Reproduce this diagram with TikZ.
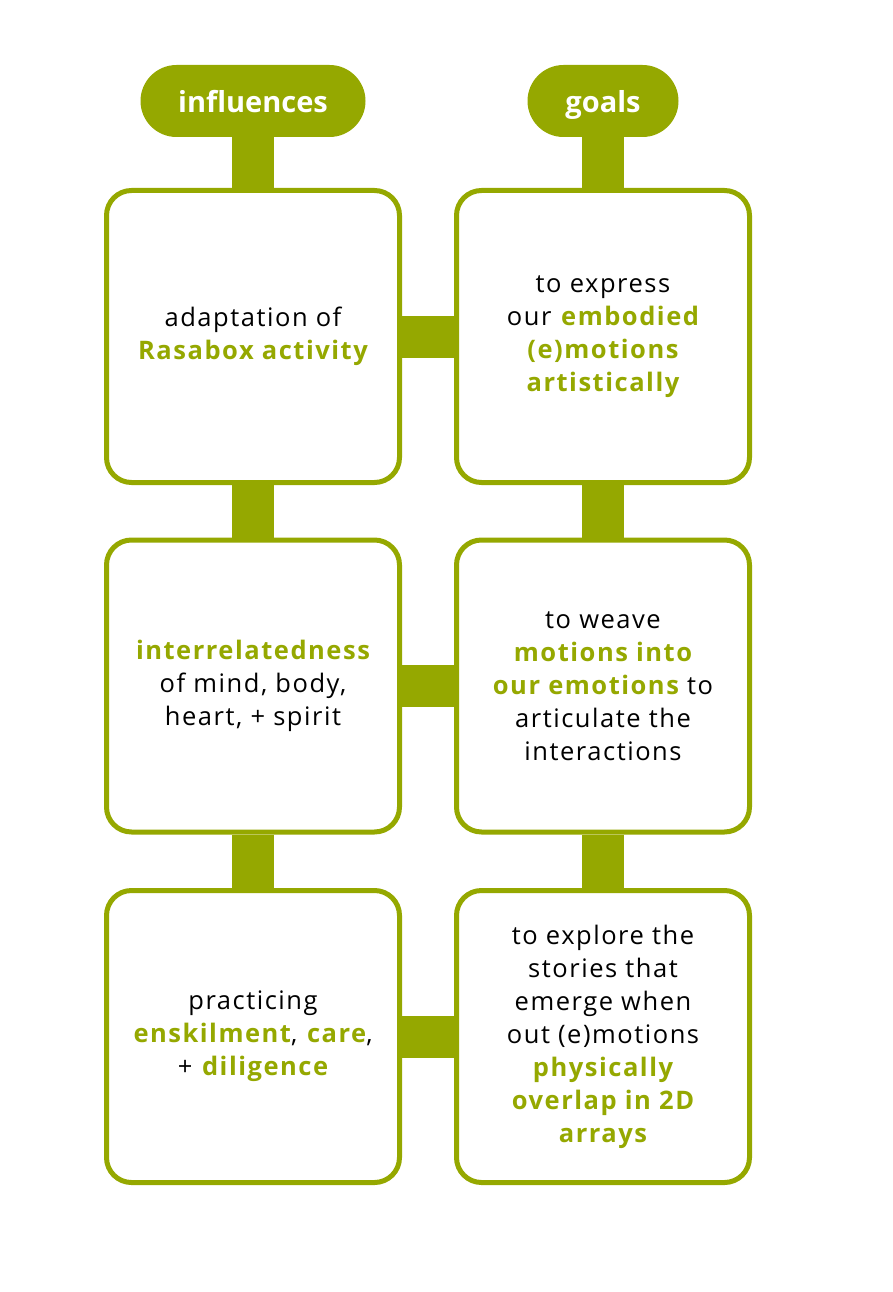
\documentclass[tikz,border=0pt]{standalone}
\usepackage{fontspec}
\setmainfont[LetterSpace=6]{Open Sans}
\newfontfamily\pillfont{Open Sans}
\definecolor{leaf}{HTML}{95A800}
\newcommand{\hl}[1]{\textbf{\color{leaf}#1}}
\tikzset{
  card/.style={draw=leaf, line width=5pt, fill=white, rounded corners=25pt,
    minimum width=293pt, minimum height=292pt, align=center, inner sep=0pt,
    font=\fontsize{25.5}{33}\selectfont},
  pill/.style={fill=leaf, rounded corners=36pt, minimum height=72pt, inner sep=0pt,
    text height=26pt, text depth=3pt,
    text=white, font=\pillfont\bfseries\fontsize{29}{32}\selectfont},
  link/.style={leaf, line width=42pt}
}
\begin{document}
\begin{tikzpicture}[x=1pt, y=-1pt]
    \useasboundingbox (0,0) rectangle (892,1292);

    \node[pill, minimum width=225pt] (inf) at (253,101) {influences};
    \node[pill, minimum width=151pt] (goal) at (603,101) {goals};

    \node[card] (a1) at (253,336.5) {adaptation of\\ \hl{Rasabox activity}};
    \node[card] (a2) at (253,686) {\hl{interrelatedness}\\ of mind, body,\\ heart, + spirit};
    \node[card] (a3) at (253,1036.5) {practicing\\ \hl{enskilment}, \hl{care},\\ + \hl{diligence}};

    \node[card] (b1) at (603,336.5) {to express\\ our \hl{embodied}\\ \hl{(e)motions}\\ \hl{artistically}};
    \node[card] (b2) at (603,686) {to weave\\ \hl{motions into}\\ \hl{our emotions} to\\ articulate the\\ interactions};
    \node[card] (b3) at (603,1036.5) {to explore the\\ stories that\\ emerge when\\ out (e)motions\\ \hl{physically}\\ \hl{overlap in 2D}\\ \hl{arrays}};

    % stems and links
    \draw[link] (inf.south) -- (a1.north);
    \draw[link] (goal.south) -- (b1.north);
    \draw[link] (a1.south) -- (a2.north);
    \draw[link] (a2.south) -- (a3.north);
    \draw[link] (b1.south) -- (b2.north);
    \draw[link] (b2.south) -- (b3.north);
    \draw[link] (a1.east) -- (b1.west);
    \draw[link] (a2.east) -- (b2.west);
    \draw[link] (a3.east) -- (b3.west);
\end{tikzpicture}
\end{document}
